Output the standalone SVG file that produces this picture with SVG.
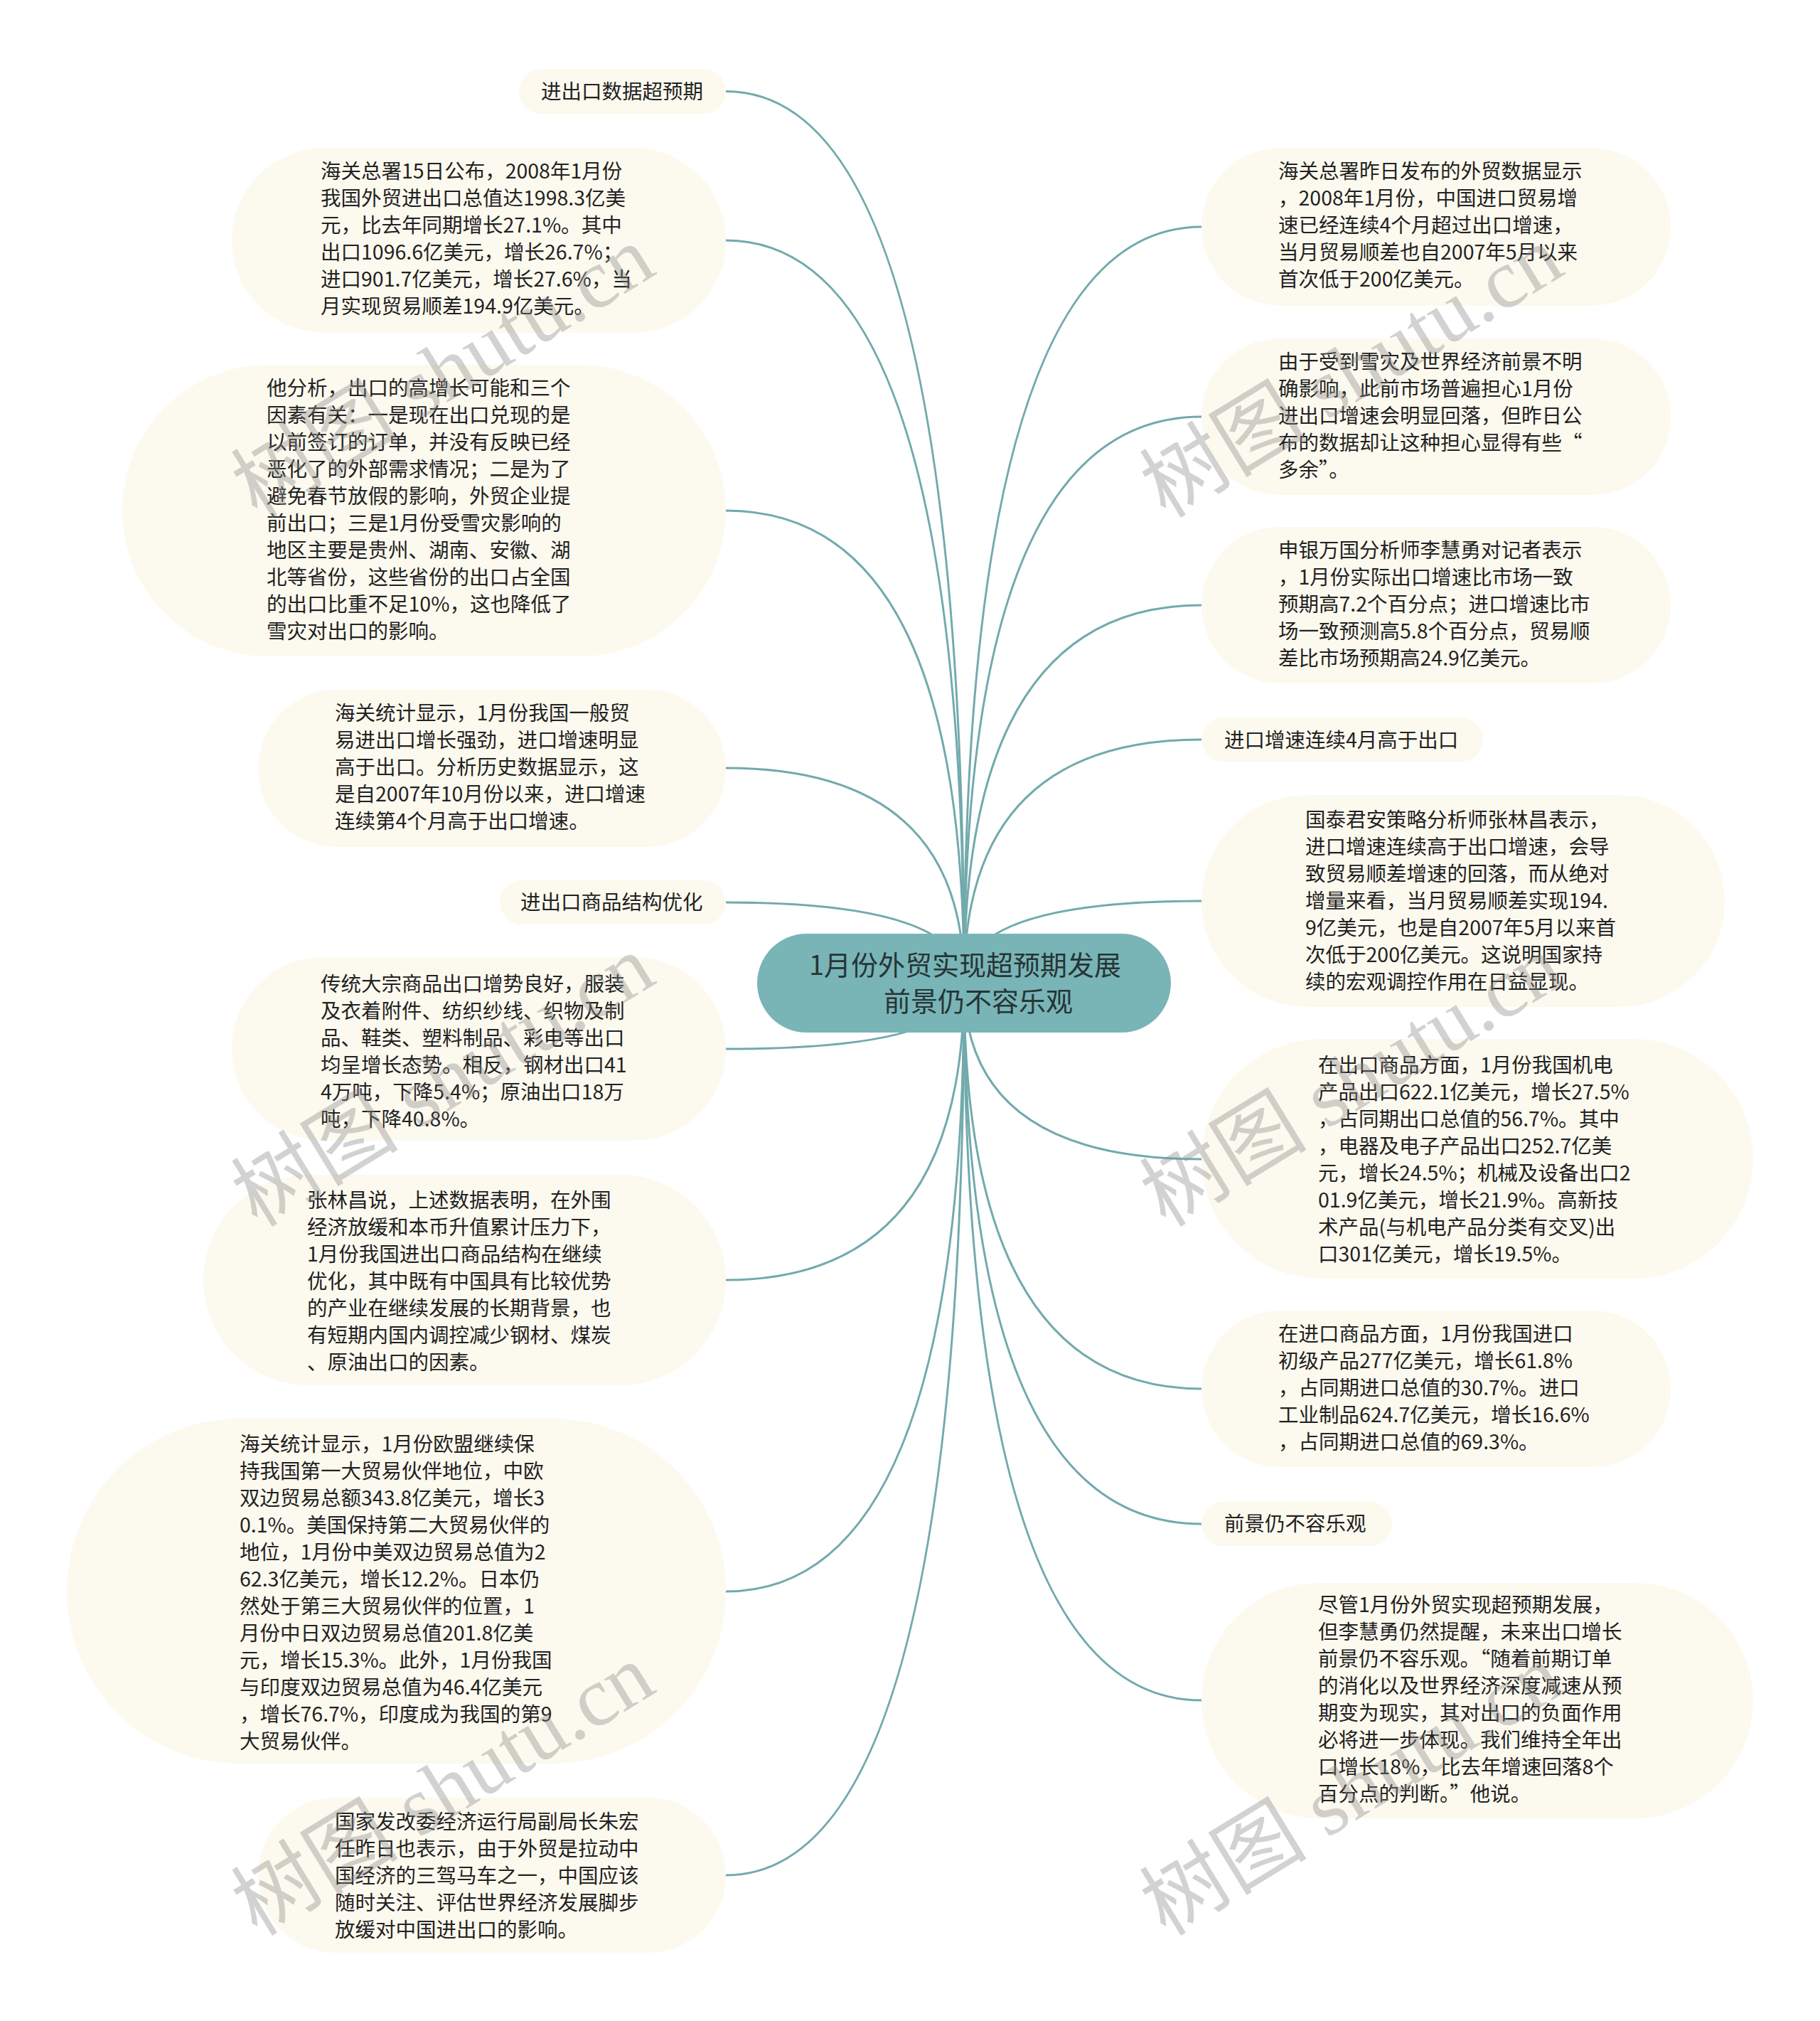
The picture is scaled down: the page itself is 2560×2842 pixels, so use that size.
<svg xmlns="http://www.w3.org/2000/svg" width="2560" height="2842" viewBox="0 0 2560 2842">
<style>
.leaf{fill:#fcf9ee}
.t{font-family:"Noto Sans CJK SC","Liberation Sans",sans-serif;font-size:28.5px;fill:#222}
.conn{fill:none;stroke:#72aaad;stroke-width:3}
.root{fill:#79b4b7}
.rt{font-family:"Noto Sans CJK SC","Liberation Sans",sans-serif;font-size:38px;fill:#263535}
.wm{font-family:"Liberation Serif","Noto Sans CJK SC",serif;font-size:118px;fill:#8a8a8a;opacity:0.38}
</style>
<rect width="2560" height="2842" fill="#ffffff"/>
<g id="connectors">
<path class="conn" d="M1356 1382 Q1356 128.5 1021 128.5"/>
<path class="conn" d="M1356 1382 Q1356 338 1021 338"/>
<path class="conn" d="M1356 1382 Q1356 718 1021 718"/>
<path class="conn" d="M1356 1382 Q1356 1080 1021 1080"/>
<path class="conn" d="M1356 1382 Q1356 1269 1021 1269"/>
<path class="conn" d="M1356 1382 Q1356 1475 1021 1475"/>
<path class="conn" d="M1356 1382 Q1356 1800 1021 1800"/>
<path class="conn" d="M1356 1382 Q1356 2238 1021 2238"/>
<path class="conn" d="M1356 1382 Q1356 2637 1021 2637"/>
<path class="conn" d="M1356 1382 Q1356 319 1690 319"/>
<path class="conn" d="M1356 1382 Q1356 586 1690 586"/>
<path class="conn" d="M1356 1382 Q1356 851 1690 851"/>
<path class="conn" d="M1356 1382 Q1356 1040 1690 1040"/>
<path class="conn" d="M1356 1382 Q1356 1267 1690 1267"/>
<path class="conn" d="M1356 1382 Q1356 1630 1690 1630"/>
<path class="conn" d="M1356 1382 Q1356 1953 1690 1953"/>
<path class="conn" d="M1356 1382 Q1356 2143 1690 2143"/>
<path class="conn" d="M1356 1382 Q1356 2391 1690 2391"/>
</g>
<g id="root">
<rect class="root" x="1065" y="1313" width="582" height="139" rx="69.5"/>
<text class="rt" x="1138" y="1371">1月份外贸实现超预期发展</text>
<text class="rt" x="1243" y="1422">前景仍不容乐观</text>
</g>
<g id="L1">
<rect class="leaf" x="730" y="97" width="291" height="63" rx="31.5"/>
<text class="t" x="761" y="139">进出口数据超预期</text>
</g>
<g id="L2">
<rect class="leaf" x="326" y="208" width="695" height="260" rx="130"/>
<text class="t" y="251"><tspan x="451">海关总署15日公布，2008年1月份</tspan><tspan x="451" dy="38">我国外贸进出口总值达1998.3亿美</tspan><tspan x="451" dy="38">元，比去年同期增长27.1%。其中</tspan><tspan x="451" dy="38">出口1096.6亿美元，增长26.7%；</tspan><tspan x="451" dy="38">进口901.7亿美元，增长27.6%，当</tspan><tspan x="451" dy="38">月实现贸易顺差194.9亿美元。</tspan></text>
</g>
<g id="L3">
<rect class="leaf" x="172" y="513" width="849" height="410" rx="205"/>
<text class="t" y="556"><tspan x="375">他分析，出口的高增长可能和三个</tspan><tspan x="375" dy="38">因素有关：一是现在出口兑现的是</tspan><tspan x="375" dy="38">以前签订的订单，并没有反映已经</tspan><tspan x="375" dy="38">恶化了的外部需求情况；二是为了</tspan><tspan x="375" dy="38">避免春节放假的影响，外贸企业提</tspan><tspan x="375" dy="38">前出口；三是1月份受雪灾影响的</tspan><tspan x="375" dy="38">地区主要是贵州、湖南、安徽、湖</tspan><tspan x="375" dy="38">北等省份，这些省份的出口占全国</tspan><tspan x="375" dy="38">的出口比重不足10%，这也降低了</tspan><tspan x="375" dy="38">雪灾对出口的影响。</tspan></text>
</g>
<g id="L4">
<rect class="leaf" x="363" y="970" width="658" height="221" rx="110.5"/>
<text class="t" y="1013"><tspan x="471">海关统计显示，1月份我国一般贸</tspan><tspan x="471" dy="38">易进出口增长强劲，进口增速明显</tspan><tspan x="471" dy="38">高于出口。分析历史数据显示，这</tspan><tspan x="471" dy="38">是自2007年10月份以来，进口增速</tspan><tspan x="471" dy="38">连续第4个月高于出口增速。</tspan></text>
</g>
<g id="L5">
<rect class="leaf" x="703" y="1238" width="318" height="62" rx="31"/>
<text class="t" x="732" y="1279">进出口商品结构优化</text>
</g>
<g id="L6">
<rect class="leaf" x="326" y="1346" width="695" height="258" rx="129"/>
<text class="t" y="1394"><tspan x="451">传统大宗商品出口增势良好，服装</tspan><tspan x="451" dy="38">及衣着附件、纺织纱线、织物及制</tspan><tspan x="451" dy="38">品、鞋类、塑料制品、彩电等出口</tspan><tspan x="451" dy="38">均呈增长态势。相反，钢材出口41</tspan><tspan x="451" dy="38">4万吨，下降5.4%；原油出口18万</tspan><tspan x="451" dy="38">吨，下降40.8%。</tspan></text>
</g>
<g id="L7">
<rect class="leaf" x="286" y="1652" width="735" height="296" rx="148"/>
<text class="t" y="1698"><tspan x="432">张林昌说，上述数据表明，在外围</tspan><tspan x="432" dy="38">经济放缓和本币升值累计压力下，</tspan><tspan x="432" dy="38">1月份我国进出口商品结构在继续</tspan><tspan x="432" dy="38">优化，其中既有中国具有比较优势</tspan><tspan x="432" dy="38">的产业在继续发展的长期背景，也</tspan><tspan x="432" dy="38">有短期内国内调控减少钢材、煤炭</tspan><tspan x="432" dy="38">、原油出口的因素。</tspan></text>
</g>
<g id="L8">
<rect class="leaf" x="94" y="1995" width="927" height="485" rx="242.5"/>
<text class="t" y="2041"><tspan x="337">海关统计显示，1月份欧盟继续保</tspan><tspan x="337" dy="38">持我国第一大贸易伙伴地位，中欧</tspan><tspan x="337" dy="38">双边贸易总额343.8亿美元，增长3</tspan><tspan x="337" dy="38">0.1%。美国保持第二大贸易伙伴的</tspan><tspan x="337" dy="38">地位，1月份中美双边贸易总值为2</tspan><tspan x="337" dy="38">62.3亿美元，增长12.2%。日本仍</tspan><tspan x="337" dy="38">然处于第三大贸易伙伴的位置，1</tspan><tspan x="337" dy="38">月份中日双边贸易总值201.8亿美</tspan><tspan x="337" dy="38">元，增长15.3%。此外，1月份我国</tspan><tspan x="337" dy="38">与印度双边贸易总值为46.4亿美元</tspan><tspan x="337" dy="38">，增长76.7%，印度成为我国的第9</tspan><tspan x="337" dy="38">大贸易伙伴。</tspan></text>
</g>
<g id="L9">
<rect class="leaf" x="363" y="2528" width="658" height="218" rx="109"/>
<text class="t" y="2572"><tspan x="471">国家发改委经济运行局副局长朱宏</tspan><tspan x="471" dy="38">任昨日也表示，由于外贸是拉动中</tspan><tspan x="471" dy="38">国经济的三驾马车之一，中国应该</tspan><tspan x="471" dy="38">随时关注、评估世界经济发展脚步</tspan><tspan x="471" dy="38">放缓对中国进出口的影响。</tspan></text>
</g>
<g id="R1">
<rect class="leaf" x="1690" y="208" width="660" height="222" rx="111"/>
<text class="t" y="251"><tspan x="1798">海关总署昨日发布的外贸数据显示</tspan><tspan x="1798" dy="38">，2008年1月份，中国进口贸易增</tspan><tspan x="1798" dy="38">速已经连续4个月超过出口增速，</tspan><tspan x="1798" dy="38">当月贸易顺差也自2007年5月以来</tspan><tspan x="1798" dy="38">首次低于200亿美元。</tspan></text>
</g>
<g id="R2">
<rect class="leaf" x="1690" y="476" width="660" height="220" rx="110"/>
<text class="t" y="519"><tspan x="1798">由于受到雪灾及世界经济前景不明</tspan><tspan x="1798" dy="38">确影响，此前市场普遍担心1月份</tspan><tspan x="1798" dy="38">进出口增速会明显回落，但昨日公</tspan><tspan x="1798" dy="38">布的数据却让这种担心显得有些“</tspan><tspan x="1798" dy="38">多余”。</tspan></text>
</g>
<g id="R3">
<rect class="leaf" x="1690" y="741" width="660" height="220" rx="110"/>
<text class="t" y="784"><tspan x="1798">申银万国分析师李慧勇对记者表示</tspan><tspan x="1798" dy="38">，1月份实际出口增速比市场一致</tspan><tspan x="1798" dy="38">预期高7.2个百分点；进口增速比市</tspan><tspan x="1798" dy="38">场一致预测高5.8个百分点，贸易顺</tspan><tspan x="1798" dy="38">差比市场预期高24.9亿美元。</tspan></text>
</g>
<g id="R4">
<rect class="leaf" x="1690" y="1009" width="396" height="62" rx="31"/>
<text class="t" x="1722" y="1051">进口增速连续4月高于出口</text>
</g>
<g id="R5">
<rect class="leaf" x="1690" y="1118" width="736" height="298" rx="149"/>
<text class="t" y="1163"><tspan x="1836">国泰君安策略分析师张林昌表示，</tspan><tspan x="1836" dy="38">进口增速连续高于出口增速，会导</tspan><tspan x="1836" dy="38">致贸易顺差增速的回落，而从绝对</tspan><tspan x="1836" dy="38">增量来看，当月贸易顺差实现194.</tspan><tspan x="1836" dy="38">9亿美元，也是自2007年5月以来首</tspan><tspan x="1836" dy="38">次低于200亿美元。这说明国家持</tspan><tspan x="1836" dy="38">续的宏观调控作用在日益显现。</tspan></text>
</g>
<g id="R6">
<rect class="leaf" x="1690" y="1461" width="776" height="337" rx="168.5"/>
<text class="t" y="1508"><tspan x="1854">在出口商品方面，1月份我国机电</tspan><tspan x="1854" dy="38">产品出口622.1亿美元，增长27.5%</tspan><tspan x="1854" dy="38">，占同期出口总值的56.7%。其中</tspan><tspan x="1854" dy="38">，电器及电子产品出口252.7亿美</tspan><tspan x="1854" dy="38">元，增长24.5%；机械及设备出口2</tspan><tspan x="1854" dy="38">01.9亿美元，增长21.9%。高新技</tspan><tspan x="1854" dy="38">术产品(与机电产品分类有交叉)出</tspan><tspan x="1854" dy="38">口301亿美元，增长19.5%。</tspan></text>
</g>
<g id="R7">
<rect class="leaf" x="1690" y="1843" width="660" height="220" rx="110"/>
<text class="t" y="1886"><tspan x="1798">在进口商品方面，1月份我国进口</tspan><tspan x="1798" dy="38">初级产品277亿美元，增长61.8%</tspan><tspan x="1798" dy="38">，占同期进口总值的30.7%。进口</tspan><tspan x="1798" dy="38">工业制品624.7亿美元，增长16.6%</tspan><tspan x="1798" dy="38">，占同期进口总值的69.3%。</tspan></text>
</g>
<g id="R8">
<rect class="leaf" x="1690" y="2112" width="268" height="62" rx="31"/>
<text class="t" x="1722" y="2153">前景仍不容乐观</text>
</g>
<g id="R9">
<rect class="leaf" x="1690" y="2226" width="776" height="331" rx="165.5"/>
<text class="t" y="2267"><tspan x="1854">尽管1月份外贸实现超预期发展，</tspan><tspan x="1854" dy="38">但李慧勇仍然提醒，未来出口增长</tspan><tspan x="1854" dy="38">前景仍不容乐观。“随着前期订单</tspan><tspan x="1854" dy="38">的消化以及世界经济深度减速从预</tspan><tspan x="1854" dy="38">期变为现实，其对出口的负面作用</tspan><tspan x="1854" dy="38">必将进一步体现。我们维持全年出</tspan><tspan x="1854" dy="38">口增长18%，比去年增速回落8个</tspan><tspan x="1854" dy="38">百分点的判断。”他说。</tspan></text>
</g>
<g id="watermarks">
<text class="wm" text-anchor="middle" transform="translate(644 557) rotate(-31.5)">树图 shutu.cn</text>
<text class="wm" text-anchor="middle" transform="translate(1922 557) rotate(-31.5)">树图 shutu.cn</text>
<text class="wm" text-anchor="middle" transform="translate(644 1554) rotate(-31.5)">树图 shutu.cn</text>
<text class="wm" text-anchor="middle" transform="translate(1922 1554) rotate(-31.5)">树图 shutu.cn</text>
<text class="wm" text-anchor="middle" transform="translate(644 2551) rotate(-31.5)">树图 shutu.cn</text>
<text class="wm" text-anchor="middle" transform="translate(1922 2551) rotate(-31.5)">树图 shutu.cn</text>
</g>
</svg>
